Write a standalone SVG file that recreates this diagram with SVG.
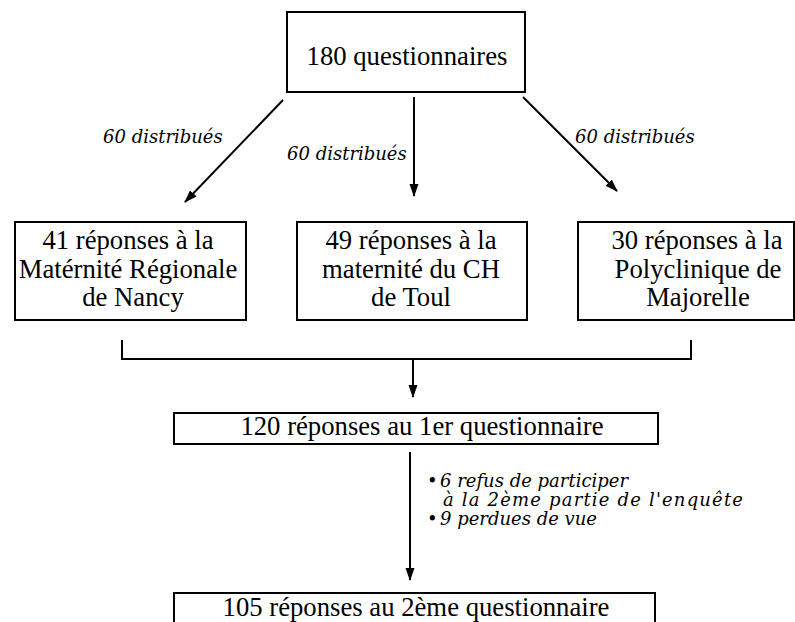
<svg xmlns="http://www.w3.org/2000/svg" width="795" height="622" viewBox="0 0 795 622">
<style>
.box{fill:#fff;stroke:#000;stroke-width:2}
.t{font-size:26.7px;fill:#000;text-anchor:middle}
.i{font-style:italic;font-size:18px;fill:#000}
.c{fill:none;stroke:#000;stroke-width:2}
</style>
<defs>
<marker id="ah" markerUnits="userSpaceOnUse" markerWidth="14" markerHeight="12" refX="12" refY="5" orient="auto">
<path d="M0,0.5 L13,5 L0,9.5 z" fill="#000"/>
</marker>
</defs>
<rect width="795" height="622" fill="#fff"/>
<g id="connectors">
<line class="c" x1="283" y1="100" x2="185" y2="202" marker-end="url(#ah)"/>
<line class="c" x1="414" y1="97" x2="414" y2="196" marker-end="url(#ah)"/>
<line class="c" x1="523" y1="97" x2="617" y2="191" marker-end="url(#ah)"/>
<polyline class="c" points="122,340 122,359 691,359 691,340"/>
<line class="c" x1="413" y1="359" x2="413" y2="397" marker-end="url(#ah)"/>
<line class="c" x1="410" y1="452" x2="410" y2="580" marker-end="url(#ah)"/>
<g font-family="'DejaVu Serif', 'Liberation Serif', serif">
<text class="i" x="103" y="143">60 distribués</text>
<text class="i" x="287" y="160">60 distribués</text>
<text class="i" x="575" y="143">60 distribués</text>
<text class="i" x="427" y="487">•</text>
<text class="i" x="440" y="487">6 refus de participer</text>
<text class="i" x="443" y="506" textLength="300" lengthAdjust="spacing">à la 2ème partie de l'enquête</text>
<text class="i" x="427" y="525">•</text>
<text class="i" x="440" y="525">9 perdues de vue</text>
</g>
</g>
<g font-family="'Liberation Serif', 'Times New Roman', 'DejaVu Serif', serif">
<g id="n180">
<rect class="box" x="287" y="12" width="238" height="80"/>
<text class="t" x="407" y="65">180 questionnaires</text>
</g>
<g id="nNancy">
<rect class="box" x="15" y="222" width="231" height="98"/>
<text class="t" x="128" y="249">41 réponses à la</text>
<text class="t" x="128" y="278">Matérnité Régionale</text>
<text class="t" x="133" y="306">de Nancy</text>
</g>
<g id="nToul">
<rect class="box" x="297" y="222" width="230" height="98"/>
<text class="t" x="411" y="249">49 réponses à la</text>
<text class="t" x="411" y="278">maternité du CH</text>
<text class="t" x="411" y="306">de Toul</text>
</g>
<g id="nMajorelle">
<rect class="box" x="578" y="222" width="216" height="98"/>
<text class="t" x="697" y="249">30 réponses à la</text>
<text class="t" x="698" y="278">Polyclinique de</text>
<text class="t" x="698" y="306">Majorelle</text>
</g>
<g id="n120">
<rect class="box" x="174" y="413" width="484" height="31"/>
<text class="t" x="422" y="435">120 réponses au 1er questionnaire</text>
</g>
<g id="n105">
<rect class="box" x="174" y="593" width="481" height="40"/>
<text class="t" x="416" y="616">105 réponses au 2ème questionnaire</text>
</g>
</g>
</svg>
